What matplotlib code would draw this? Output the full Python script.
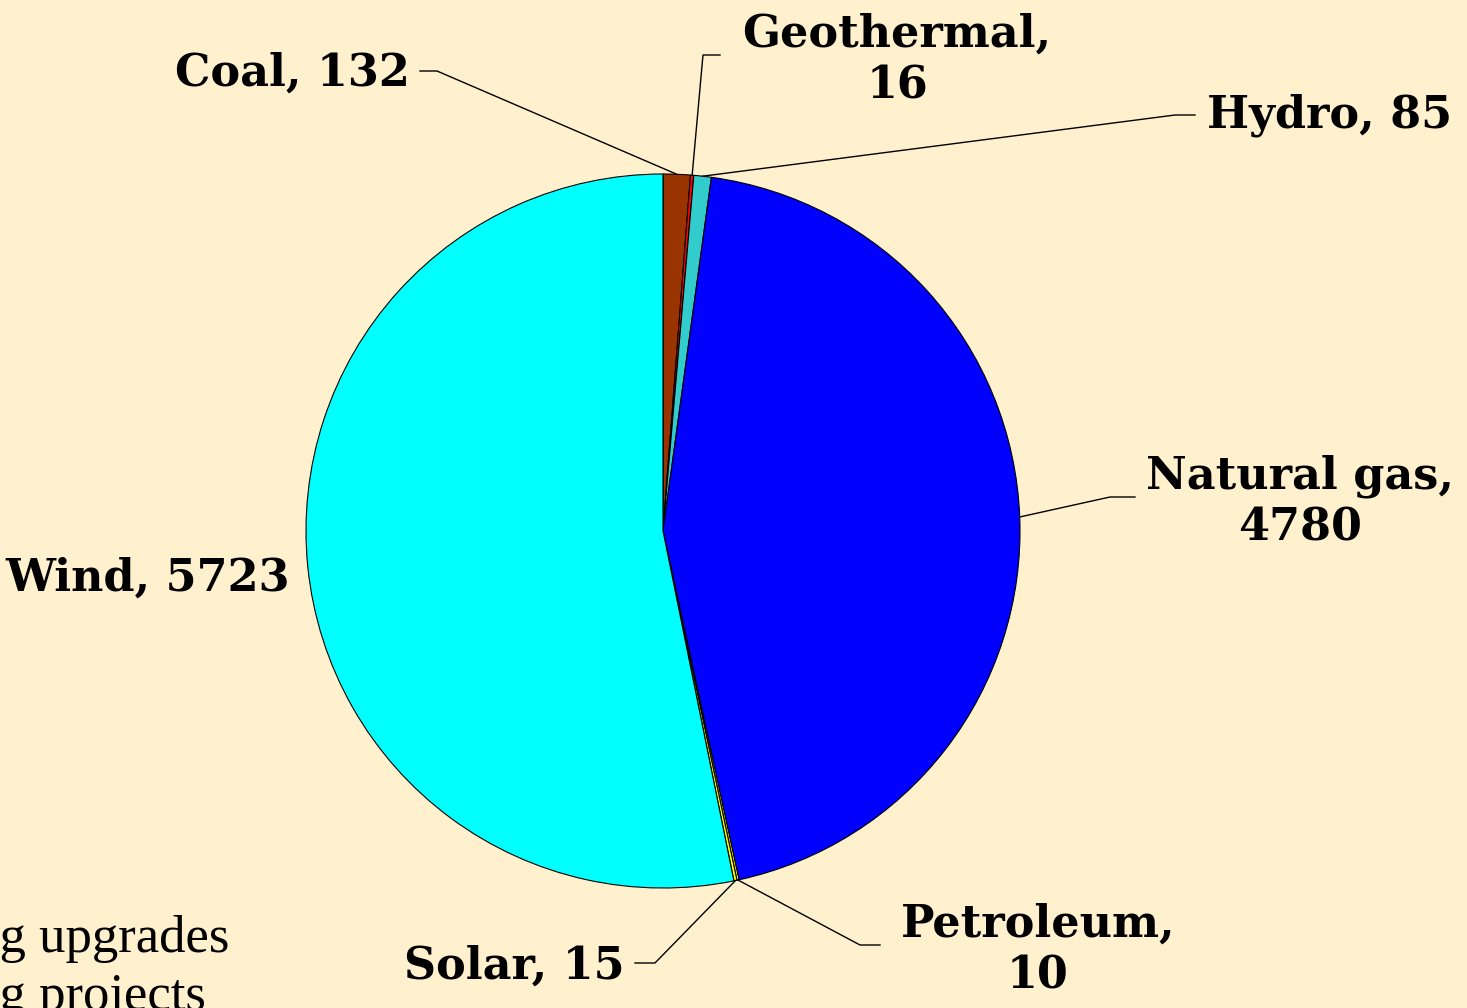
import numpy as np
import matplotlib
matplotlib.use("Agg")
import matplotlib.pyplot as plt

# capacity by source
sources = ['Coal', 'Geothermal', 'Hydro', 'Natural gas', 'Petroleum', 'Solar', 'Wind']
capacity = [132, 16, 85, 4780, 10, 15, 5723]
colors = ['#993300', '#FF0000', '#33CCCC', '#0000FF', '#FFFF00', '#FFFF00', '#00FFFF']
label_text = ['Coal, 132', 'Geothermal,\n16', 'Hydro, 85', 'Natural gas,\n4780',
              'Petroleum,\n10', 'Solar, 15', 'Wind, 5723']

W, H = 1467, 1008
bg = '#FFF0CE'

fig = plt.figure(figsize=(W / 100, H / 100), dpi=100, facecolor=bg)
ax = fig.add_axes([0, 0, 1, 1])
ax.set_facecolor(bg)


def Y(y):
    # pixel row (from top) -> data y
    return H - y


cx, cy, r = 663, Y(531), 357
wedges, _ = ax.pie(capacity, colors=colors, startangle=90, counterclock=False,
                   center=(cx, cy), radius=r, frame=True,
                   wedgeprops=dict(edgecolor='black', linewidth=0.8))
ax.set_xlim(0, W)
ax.set_ylim(0, H)
ax.set_aspect('equal')
ax.axis('off')

font = dict(family='DejaVu Serif', fontweight='bold', fontsize=32, color='black')

# label anchor (text x, text y, ha, va), elbow points for leader
layout = {
    'Coal': ((410, 73, 'right', 'center'), [(420, 71), (437, 71)]),
    'Geothermal': ((897, 60, 'center', 'center'), [(720, 55), (703, 55)]),
    'Hydro': ((1207, 115, 'left', 'center'), [(1195, 115), (1175, 115)]),
    'Natural gas': ((1300, 502, 'center', 'center'), [(1135, 497), (1110, 497)]),
    'Petroleum': ((1038, 950, 'center', 'center'), [(880, 945), (860, 945)]),
    'Solar': ((625, 966, 'right', 'center'), [(635, 963), (655, 963)]),
    'Wind': ((290, 578, 'right', 'center'), None),
}

for w, name, txt in zip(wedges, sources, label_text):
    (tx, ty, ha, va), elbow = layout[name]
    ax.text(tx, Y(ty), txt, ha=ha, va=va, linespacing=1.25, **font)
    if elbow is None:
        continue
    mid = np.deg2rad((w.theta1 + w.theta2) / 2)
    ex, ey = cx + r * np.cos(mid), cy + r * np.sin(mid)
    xs = [p[0] for p in elbow] + [ex]
    ys = [Y(p[1]) for p in elbow] + [ey]
    ax.plot(xs, ys, color='black', linewidth=1.0)

# partly hidden text at the bottom left
ax.text(-147, Y(952), 'Pending upgrades', ha='left', va='baseline',
        family='Liberation Serif', fontsize=38, color='black')
ax.text(-147, Y(1010), 'Pending projects', ha='left', va='baseline',
        family='Liberation Serif', fontsize=38, color='black')

fig.savefig('out.png', dpi=100, facecolor=bg)
